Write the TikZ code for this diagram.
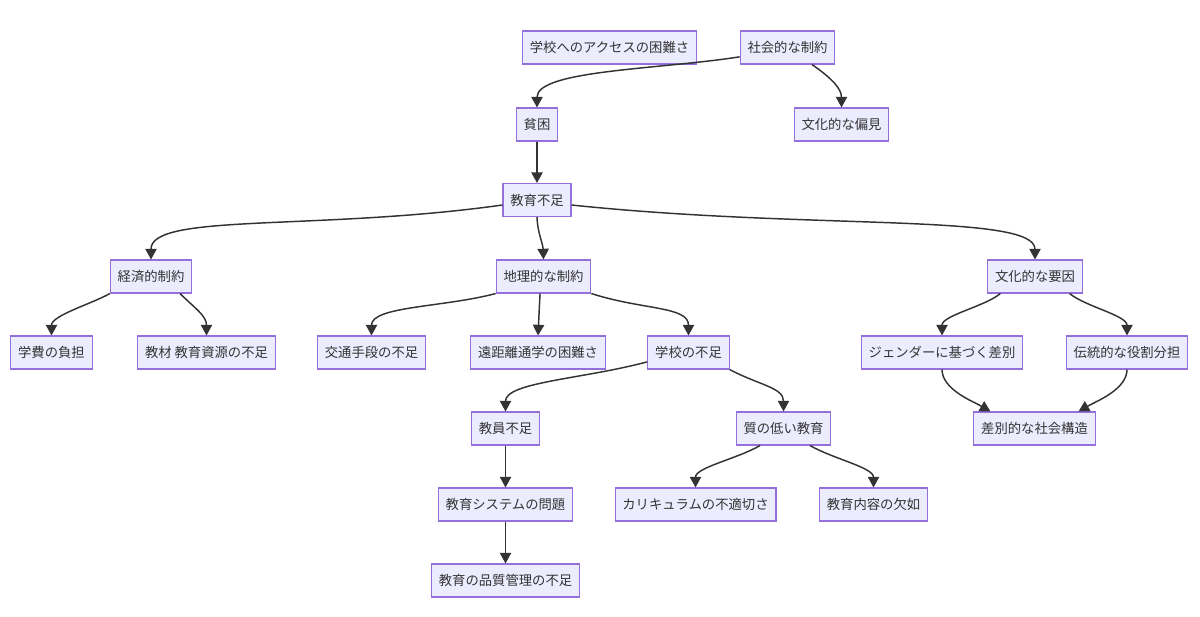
\documentclass[tikz,border=0pt]{standalone}
\usepackage{fontspec}
\setmainfont{Noto Sans CJK JP}
\usetikzlibrary{arrows.meta}
\definecolor{boxfill}{HTML}{ECECFF}
\definecolor{boxline}{HTML}{9370DB}
\definecolor{ink}{HTML}{333333}
\tikzset{
  box/.style={draw=boxline, fill=boxfill, line width=0.8pt, text=ink,
    font=\fontsize{10}{12}\selectfont, inner xsep=5.5pt, minimum height=24.75pt},
  flow/.style={draw=ink, line width=1.1pt, -{Triangle[length=8pt,width=8.5pt]}},
}
\begin{document}
\begin{tikzpicture}[x=0.75pt, y=0.75pt]
      \useasboundingbox (0,0) rectangle (1200,-617);
      % top row
      \node[box] (access) at (609.5,-47.5) {学校へのアクセスの困難さ};
      \node[box] (social) at (787.5,-47.5) {社会的な制約};
      \node[box] (poverty) at (537,-124.5) {貧困};
      \node[box] (bias) at (841.5,-124.5) {文化的な偏見};
      \node[box] (edu) at (537,-200) {教育不足};
      % main causes
      \node[box] (econ) at (151,-276.5) {経済的制約};
      \node[box] (geo) at (543.5,-276.5) {地理的な制約};
      \node[box] (cult) at (1035,-276.5) {文化的な要因};
      \node[box] (fee) at (51.5,-352.5) {学費の負担};
      \node[box] (mat) at (206.5,-352.5) {教材 教育資源の不足};
      \node[box] (trans) at (371.5,-352.5) {交通手段の不足};
      \node[box] (dist) at (538,-352.5) {遠距離通学の困難さ};
      \node[box] (lack) at (688.5,-352.5) {学校の不足};
      \node[box] (gender) at (942,-352.5) {ジェンダーに基づく差別};
      \node[box] (trad) at (1127,-352.5) {伝統的な役割分担};
      \node[box] (teach) at (505.5,-428.5) {教員不足};
      \node[box] (qual) at (783.5,-428.5) {質の低い教育};
      \node[box] (struct) at (1034.5,-428.5) {差別的な社会構造};
      \node[box] (sys) at (505.5,-504.5) {教育システムの問題};
      \node[box] (curr) at (695.5,-504.5) {カリキュラムの不適切さ};
      \node[box] (cont) at (873.5,-504.5) {教育内容の欠如};
      \node[box] (qc) at (505.5,-580.5) {教育の品質管理の不足};
      % connectors
      \draw[flow] ([yshift=-7pt]social.west) to[out=189, in=90, out distance=60pt, in distance=28pt] (poverty.north);
      \draw[flow] ([xshift=18.4pt]social.south) to[out=-35, in=90, out distance=15pt, in distance=15pt] (bias.north);
      \draw[flow] (poverty) -- (edu);
      \draw[flow] ([yshift=-3.75pt]edu.west) to[out=188, in=90, out distance=140pt, in distance=35pt] (econ.north);
      \draw[flow] (edu.south) to[out=-88, in=92, out distance=12pt, in distance=12pt] (geo.north);
      \draw[flow] ([yshift=-3.75pt]edu.east) to[out=-6, in=90, out distance=180pt, in distance=35pt] (cult.north);
      \draw[flow] (econ.south west) to[out=-150, in=90, out distance=15pt, in distance=15pt] (fee.north);
      \draw[flow] ([xshift=21.75pt]econ.south) to[out=-45, in=90, out distance=15pt, in distance=15pt] (mat.north);
      \draw[flow] (geo.south west) to[out=195, in=90, out distance=40pt, in distance=22pt] (trans.north);
      \draw[flow] ([xshift=-2.6pt]geo.south) -- (dist.north);
      \draw[flow] (geo.south east) to[out=-18, in=90, out distance=40pt, in distance=22pt] (lack.north);
      \draw[flow] ([yshift=-7pt]lack.west) to[out=195, in=90, out distance=50pt, in distance=22pt] (teach.north);
      \draw[flow] (lack.south east) to[out=-28, in=90, out distance=25pt, in distance=18pt] (qual.north);
      \draw[flow] (teach) -- (sys);
      \draw[flow] (sys) -- (qc);
      \draw[flow] ([xshift=-17.6pt]qual.south) to[out=-150, in=90, out distance=20pt, in distance=15pt] (curr.north);
      \draw[flow] ([xshift=19.9pt]qual.south) to[out=-30, in=90, out distance=20pt, in distance=15pt] (cont.north);
      \draw[flow] ([xshift=-26pt]cult.south) to[out=-140, in=90, out distance=15pt, in distance=15pt] (gender.north);
      \draw[flow] ([xshift=26pt]cult.south) to[out=-40, in=90, out distance=15pt, in distance=15pt] (trad.north);
      \draw[flow] (gender.south) to[out=-90, in=150, out distance=15pt, in distance=15pt] ([xshift=-33pt]struct.north);
      \draw[flow] (trad.south) to[out=-90, in=30, out distance=15pt, in distance=15pt] ([xshift=33pt]struct.north);
\end{tikzpicture}
\end{document}
